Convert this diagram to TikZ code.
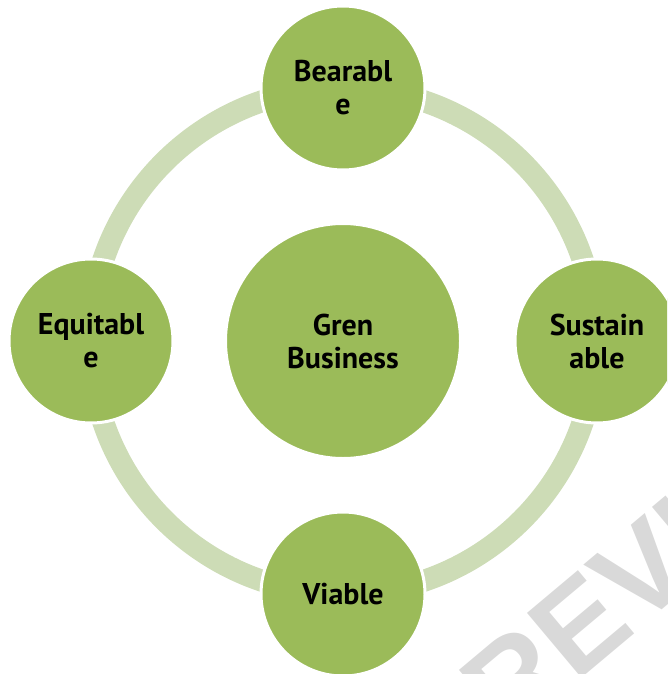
\documentclass[tikz,border=0pt]{standalone}
\usepackage{fontspec}
\setmainfont{PT Sans}
\newfontfamily\markfont{Liberation Sans}
\usepackage{xcolor}
\usepackage{tikz}

\definecolor{leaf}{HTML}{9BBB59}
\definecolor{ringgreen}{RGB}{205,220,182}
\definecolor{markgray}{RGB}{217,217,217}

\begin{document}
\begin{tikzpicture}[
    x=1pt, y=-1pt,
    petal/.style={circle, draw=white, line width=3pt, fill=leaf, minimum size=164pt,
        inner sep=0pt, align=center, font=\bfseries\fontsize{30}{33}\selectfont},
    hub/.style={petal, minimum size=235pt},
    ring/.style={draw=ringgreen, line width=22pt},
    watermark/.style={font=\markfont\bfseries\fontsize{123}{123}\selectfont,
        text=markgray, inner sep=0pt, anchor=base west, rotate=40}
]
\useasboundingbox (0,0) rectangle (667,674);
\clip (0,0) rectangle (667,674);

\node[hub] (business) at (343,341) {Gren\\Business};

% ring behind the four petals
\draw[ring] (business.center) circle[radius=253pt];

\node[petal] (bearable) at (343,88) {Bearabl\\e};
\node[petal] (sustainable) at (597,341) {Sustain\\able};
\node[petal] (viable) at (343,594) {Viable};
\node[petal] (equitable) at (91,341) {Equitabl\\e};

\node[watermark] (preview) at (444,793) {PREVIEW};

\end{tikzpicture}
\end{document}
